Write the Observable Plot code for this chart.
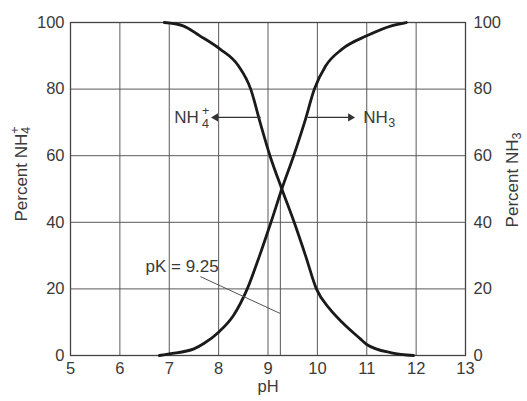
<!DOCTYPE html>
<html>
<head>
<meta charset="utf-8">
<script src="https://cdn.jsdelivr.net/npm/d3@7"></script>
<script src="https://cdn.jsdelivr.net/npm/@observablehq/plot@0.6"></script>
<style>
  html, body { margin: 0; padding: 0; background: #fff; }
  #chart { width: 527px; height: 401px; }
</style>
</head>
<body>
<div id="chart"></div>
<script>
// pH tick labels and percent tick labels
const pHTicks = [5, 6, 7, 8, 9, 10, 11, 12, 13];
const pctTicks = [0, 20, 40, 60, 80, 100];

// NH4+ curve
const nh4pH  = [6.9, 7.28, 7.62, 8.03, 8.4, 8.65, 8.84, 9.04, 9.28, 9.53, 9.76, 9.98, 10.25, 10.5, 10.87, 11.0, 11.5, 11.95];
const nh4Pct = [100, 99, 96, 92, 87, 80, 70, 60, 50, 40, 30, 20, 14, 10, 5, 3.3, 0.8, 0];

// NH3 curve
const nh3pH  = [6.8, 7.0, 7.5, 7.7, 8.0, 8.3, 8.58, 8.83, 9.06, 9.28, 9.52, 9.74, 9.94, 10.17, 10.5, 11.0, 11.5, 11.8];
const nh3Pct = [0, 0.5, 2, 3.6, 7, 12, 20, 30, 40, 50, 60, 70, 80, 87, 92, 96, 99, 100];

const pK = 9.25;

const nh4 = nh4pH.map((x, i) => ({x, y: nh4Pct[i]}));
const nh3 = nh3pH.map((x, i) => ({x, y: nh3Pct[i]}));

const FONT = "'Liberation Sans', Arial, Helvetica, sans-serif";
const TXT = "#3a3a3a";

const chart = Plot.plot({
  width: 527,
  height: 401,
  marginLeft: 70,
  marginRight: 62,
  marginTop: 22,
  marginBottom: 46,
  style: {fontFamily: FONT, fontSize: "16.5px", color: TXT, background: "#fff"},
  x: {domain: [5, 13]},
  y: {domain: [0, 100]},
  marks: [
    Plot.gridX(pHTicks, {stroke: "#5a5a5a", strokeOpacity: 1, strokeWidth: 1}),
    Plot.gridY(pctTicks, {stroke: "#5a5a5a", strokeOpacity: 1, strokeWidth: 1}),
    Plot.frame({stroke: "#444", strokeWidth: 1.3}),
    Plot.axisX(pHTicks, {tickSize: 0, tickPadding: 7, label: null, fill: TXT}),
    Plot.axisY(pctTicks, {anchor: "left", tickSize: 0, tickPadding: 6, label: null, fill: TXT}),
    Plot.axisY(pctTicks, {anchor: "right", tickSize: 0, tickPadding: 8, label: null, fill: TXT}),
    Plot.ruleX([pK], {y1: 0, y2: 50, stroke: "#555", strokeWidth: 1}),
    Plot.line(nh4, {x: "x", y: "y", curve: "monotone-x", stroke: "#1a1a1a", strokeWidth: 2.8}),
    Plot.line(nh3, {x: "x", y: "y", curve: "monotone-x", stroke: "#1a1a1a", strokeWidth: 2.8}),
    // pK leader
    Plot.link([{x1: 7.63, y1: 23.7, x2: pK, y2: 12.6}], {x1: "x1", y1: "y1", x2: "x2", y2: "y2", stroke: "#555", strokeWidth: 1}),
    Plot.text([{x: 7.26, y: 26.6, t: "pK = 9.25"}], {x: "x", y: "y", text: "t", fontSize: 17, fill: TXT}),
    // arrows
    Plot.link([{x1: 8.85, y1: 71.5, x2: 7.9, y2: 71.5}], {x1: "x1", y1: "y1", x2: "x2", y2: "y2", stroke: "#333", strokeWidth: 1.2}),
    Plot.dot([{x: 7.9, y: 71.5}], {x: "x", y: "y", symbol: "triangle", rotate: -90, r: 3, dx: 2, fill: "#333", stroke: "none"}),
    Plot.link([{x1: 9.8, y1: 71.5, x2: 10.71, y2: 71.5}], {x1: "x1", y1: "y1", x2: "x2", y2: "y2", stroke: "#333", strokeWidth: 1.2}),
    Plot.dot([{x: 10.71, y: 71.5}], {x: "x", y: "y", symbol: "triangle", rotate: 90, r: 3, dx: -2, fill: "#333", stroke: "none"}),
    // NH4+ label
    Plot.text([{x: 7.6, y: 71.5, t: "NH"}], {x: "x", y: "y", text: "t", textAnchor: "end", fontSize: 17, fill: TXT}),
    Plot.text([{x: 7.6, y: 71.5, t: "4"}], {x: "x", y: "y", text: "t", textAnchor: "start", dx: 3, dy: 7, fontSize: 12.5, fill: TXT}),
    Plot.text([{x: 7.6, y: 71.5, t: "+"}], {x: "x", y: "y", text: "t", textAnchor: "start", dx: 3, dy: -6, fontSize: 12.5, fill: TXT}),
    // NH3 label
    Plot.text([{x: 10.93, y: 71.5, t: "NH"}], {x: "x", y: "y", text: "t", textAnchor: "start", fontSize: 17, fill: TXT}),
    Plot.text([{x: 10.93, y: 71.5, t: "3"}], {x: "x", y: "y", text: "t", textAnchor: "start", dx: 25, dy: 6, fontSize: 12.5, fill: TXT}),
    // x axis title
    Plot.text(["pH"], {frameAnchor: "bottom", dy: 36, fontSize: 16.5, fill: TXT})
  ]
});

document.getElementById("chart").appendChild(chart);

// Rotated axis titles with sub/superscripts
const svg = d3.select(chart);
const left = svg.append("text")
  .attr("transform", "translate(27,174) rotate(-90)")
  .attr("text-anchor", "middle")
  .attr("font-family", FONT)
  .attr("font-size", 17)
  .attr("fill", TXT);
left.append("tspan").text("Percent NH");
left.append("tspan").attr("font-size", 12.5).attr("dy", 3).text("4");
left.append("tspan").attr("font-size", 12.5).attr("dx", -7).attr("dy", -11).text("+");

const right = svg.append("text")
  .attr("transform", "translate(518,180) rotate(-90)")
  .attr("text-anchor", "middle")
  .attr("font-family", FONT)
  .attr("font-size", 17)
  .attr("fill", TXT);
right.append("tspan").text("Percent NH");
right.append("tspan").attr("font-size", 12.5).attr("dy", 3).text("3");
</script>
</body>
</html>
